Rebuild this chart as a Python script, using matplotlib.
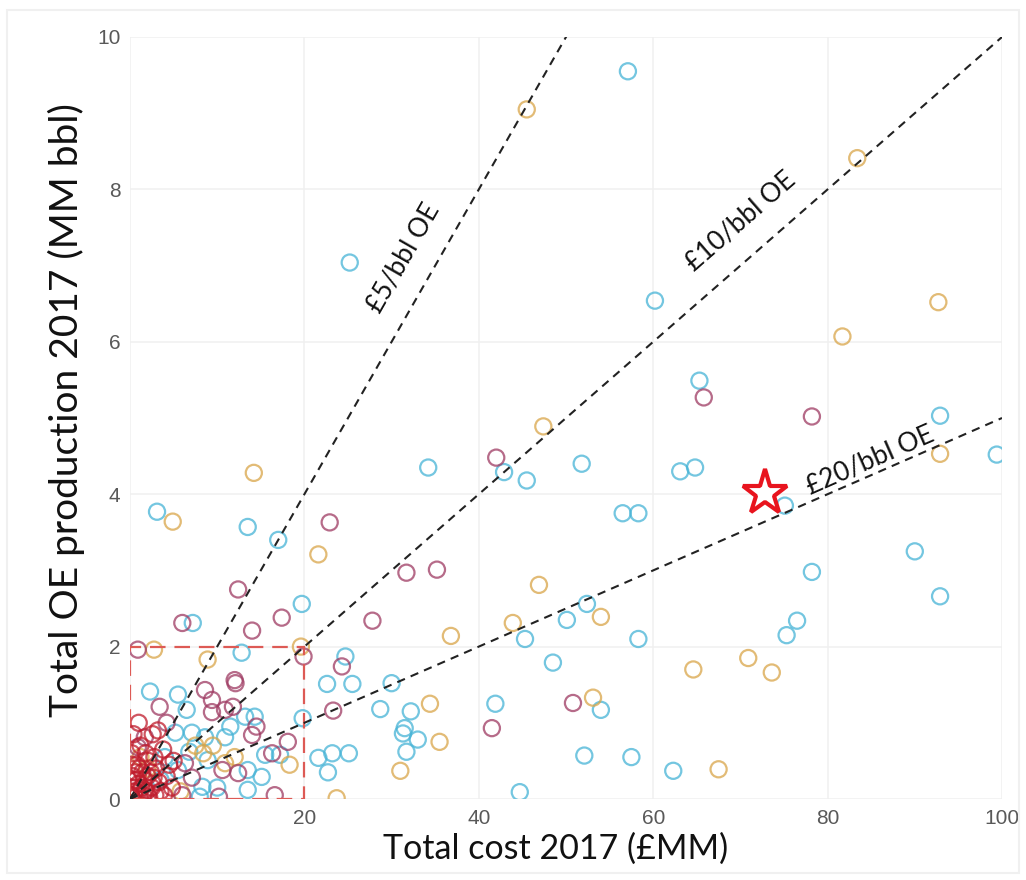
import numpy as np
import matplotlib
matplotlib.use("Agg")
import matplotlib.pyplot as plt
from matplotlib.patches import Rectangle

plt.rcParams['font.family'] = ['Lato', 'DejaVu Sans']

# field cost vs production, grouped by field type
cyan_x = [57.1, 25.2, 60.2, 65.3, 92.9, 99.4, 42.9, 45.5, 34.2, 51.8, 63.1, 64.8,
          56.5, 58.3, 75.1, 3.1, 13.5, 17.0, 90.0, 78.2, 92.9, 19.7, 7.2, 50.1,
          52.4, 45.3, 58.3, 48.5, 75.3, 76.5, 24.7, 22.6, 25.5, 30.0, 28.7, 32.2,
          31.5, 31.3, 33.0, 31.7, 19.8, 21.6, 23.2, 25.1, 22.7, 44.7, 41.9, 54.0,
          52.1, 57.5, 62.3,
          12.8, 2.3, 5.5, 6.5, 13.2, 14.3, 5.2, 7.1, 8.6, 10.9, 15.5, 8.9, 5.5,
          13.5, 15.1, 13.5, 8.0, 8.3, 4.0, 6.8, 11.5, 17.2, 3.5, 10.0]
cyan_y = [9.55, 7.04, 6.54, 5.49, 5.03, 4.52, 4.29, 4.18, 4.35, 4.40, 4.30, 4.35,
          3.75, 3.75, 3.85, 3.77, 3.57, 3.40, 3.25, 2.98, 2.66, 2.56, 2.31, 2.35,
          2.56, 2.10, 2.10, 1.79, 2.15, 2.34, 1.87, 1.51, 1.51, 1.52, 1.18, 1.15,
          0.93, 0.86, 0.78, 0.62, 1.06, 0.54, 0.60, 0.60, 0.35, 0.09, 1.25, 1.17,
          0.57, 0.55, 0.37,
          1.92, 1.41, 1.37, 1.17, 1.08, 1.08, 0.87, 0.87, 0.81, 0.81, 0.58, 0.51, 0.38,
          0.38, 0.29, 0.12, 0.03, 0.16, 0.55, 0.62, 0.95, 0.58, 0.25, 0.15]

gold_x = [45.5, 83.4, 81.7, 92.7, 47.4, 92.9, 14.2, 4.9, 21.6, 36.8, 46.9, 43.9,
          54.0, 64.6, 70.9, 73.6, 67.5, 34.4, 35.5, 31.0, 23.7, 53.1, 19.6, 2.75,
          8.9, 8.4, 10.9, 18.3, 1.2, 2.0, 9.5, 12.0, 7.5, 5.8]
gold_y = [9.05, 8.41, 6.07, 6.52, 4.89, 4.53, 4.28, 3.64, 3.21, 2.14, 2.81, 2.31,
          2.39, 1.70, 1.85, 1.66, 0.39, 1.25, 0.75, 0.37, 0.01, 1.33, 2.00, 1.96,
          1.83, 0.60, 0.47, 0.45, 0.55, 0.40, 0.70, 0.55, 0.70, 0.10]

maroon_x = [65.8, 78.2, 42.0, 22.9, 12.4, 31.7, 35.2, 27.8, 17.4, 14.0, 6.0, 19.9,
            24.3, 23.3, 41.5, 50.8, 16.6, 0.9, 12.0, 12.1, 8.6, 9.4, 3.4, 4.2,
            9.4, 10.9, 11.8, 1.7, 0.9, 14.0, 16.3, 18.1, 6.3, 10.6, 12.4, 10.2,
            6.0, 7.1, 14.5]
maroon_y = [5.27, 5.02, 4.48, 3.63, 2.75, 2.97, 3.01, 2.34, 2.38, 2.21, 2.31, 1.87,
            1.74, 1.16, 0.93, 1.26, 0.05, 1.96, 1.56, 1.52, 1.43, 1.30, 1.21, 1.00,
            1.14, 1.17, 1.21, 0.81, 0.68, 0.84, 0.60, 0.75, 0.47, 0.38, 0.34, 0.03,
            0.05, 0.28, 0.95]

red_x = [0.5, 1.0, 1.5, 2.0, 0.8, 1.8, 2.5, 3.0, 0.3, 1.2, 2.8, 3.5, 4.2, 0.6,
         2.2, 1.4, 0.2, 3.8, 4.8, 2.6, 5.0, 1.0, 0.4, 3.2,
         0.1, 0.7, 1.3, 1.9, 2.4, 3.3, 0.4, 1.1, 1.6, 2.9, 0.9, 2.1, 3.9, 0.2,
         1.7, 4.5, 0.6, 2.7]
red_y = [0.10, 0.20, 0.05, 0.30, 0.45, 0.60, 0.15, 0.40, 0.30, 0.70, 0.55, 0.10,
         0.30, 0.02, 0.02, 0.35, 0.60, 0.65, 0.15, 0.85, 0.50, 1.00, 0.85, 0.90,
         0.05, 0.25, 0.15, 0.10, 0.35, 0.22, 0.15, 0.40, 0.25, 0.05, 0.08, 0.50,
         0.05, 0.45, 0.12, 0.45, 0.35, 0.28]

# unit cost reference lines (£/bbl OE)
unit_costs = [5, 10, 20]
line_labels = ['£5/bbl OE', '£10/bbl OE', '£20/bbl OE']
label_x = [31.3, 70.0, 84.9]
label_y = [7.10, 7.58, 4.44]

star_x, star_y = 72.8, 4.02

fig = plt.figure(figsize=(10.26, 8.8), dpi=100)
fig.patches.append(Rectangle((7 / 1026, 7 / 880), 1012 / 1026, 863 / 880,
                             transform=fig.transFigure, fill=False,
                             edgecolor='#f0f0f0', lw=1.5))
ax = fig.add_axes([130 / 1026, 1 - 799 / 880, 872 / 1026, 762 / 880])

ax.set_xlim(0, 100)
ax.set_ylim(0, 10)
for s in ax.spines.values():
    s.set_visible(False)
ax.set_xticks([0, 20, 40, 60, 80, 100])
ax.set_xticklabels(['', '20', '40', '60', '80', '100'])
ax.set_yticks([0, 2, 4, 6, 8, 10])
ax.tick_params(length=0, labelsize=15, labelcolor='#595959', pad=7)
for t in ax.get_xticklabels() + ax.get_yticklabels():
    t.set_fontfamily('Liberation Sans')
ax.grid(True, color='#f0f0f0', lw=1.1)
ax.set_axisbelow(True)

ms = 135
lw = 1.6
ax.scatter(cyan_x, cyan_y, s=ms, facecolors='none', edgecolors='#45b3d6', linewidths=lw, alpha=0.75)
ax.scatter(gold_x, gold_y, s=ms, facecolors='none', edgecolors='#d9a548', linewidths=lw, alpha=0.75)
ax.scatter(maroon_x, maroon_y, s=ms, facecolors='none', edgecolors='#9e3a62', linewidths=lw, alpha=0.75)
ax.scatter(red_x, red_y, s=ms, facecolors='none', edgecolors='#c01c2c', linewidths=lw, alpha=0.75)

# small-field box
ax.add_patch(Rectangle((0, 0), 20, 2, fill=False, edgecolor='#dd5a55',
                       lw=1.6, ls=(0, (7, 4)), zorder=3))

xs = np.array([0, 100])
for c, txt, tx, ty in zip(unit_costs, line_labels, label_x, label_y):
    ax.plot(xs, xs / c, color='#222222', lw=1.5, ls=(0, (4, 3)), zorder=4)
    p0 = ax.transData.transform((0, 0))
    p1 = ax.transData.transform((10, 10 / c))
    ang = np.degrees(np.arctan2(p1[1] - p0[1], p1[0] - p0[0]))
    ax.text(tx, ty, txt, rotation=ang, rotation_mode='anchor', ha='center',
            va='center', fontsize=19, color='#111111', zorder=5)

ax.plot([star_x], [star_y], marker='*', ms=34, mfc='white', mec='#e8141e',
        mew=3, zorder=6, clip_on=False)

ax.set_xlabel('Total cost 2017 (£MM)', fontsize=24.5, color='#111111')
ax.set_ylabel('Total OE production 2017 (MM bbl)', fontsize=28, color='#111111')
ax.xaxis.set_label_coords(0.488, -0.044)
ax.yaxis.set_label_coords(-0.052, 0.51)

fig.savefig('out.png', dpi=100)
